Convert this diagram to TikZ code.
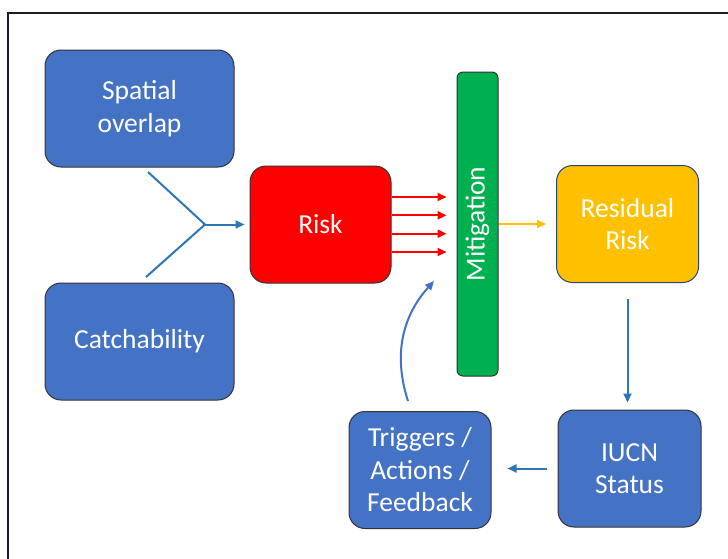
\documentclass[tikz,border=0pt]{standalone}
\usepackage{fontspec}
\setmainfont{Carlito}
\usetikzlibrary{arrows.meta}

\definecolor{boxblue}{HTML}{4472C4}
\definecolor{riskred}{HTML}{FF0000}
\definecolor{mitgreen}{HTML}{00B050}
\definecolor{resyellow}{HTML}{FFC000}
\definecolor{arrowblue}{HTML}{2E75B6}
\definecolor{framegray}{HTML}{1A1A2A}

\begin{document}
\begin{tikzpicture}[x=1pt, y=-1pt,
    box/.style={draw=black!80, line width=1pt, rounded corners=16pt, text=white,
        align=center, font=\fontsize{27.5}{32.5}\selectfont,
        minimum width=#1, minimum height=117pt, inner sep=0pt},
    box/.default=189pt,
    arr/.style={-{Triangle[length=9pt,width=8pt]}, line width=2pt, draw=arrowblue}]
        \clip (0,0) rectangle (728,558);
        \draw[framegray, line width=2pt] (8,13) rectangle (760,600);

        \node [box, fill=boxblue] (Spatial) at (139.5, 108.5) {Spatial\\overlap};
        \node [box, fill=boxblue] (Catch) at (139.5, 341.5) {Catchability};
        \node [box=141pt, fill=riskred] (Risk) at (320.5, 224.5) {Risk};
        \node [box=41pt, minimum height=304pt, rounded corners=6pt, fill=mitgreen] (Mit) at (477.5, 224) {};
        \node [text=white, font=\fontsize{27.5}{32.5}\selectfont, rotate=90] at (Mit) {Mitigation};
        \node [box=142pt, fill=resyellow, draw=boxblue!60!black] (Res) at (627.5, 224) {Residual\\Risk};
        \node [box=143pt, fill=boxblue] (IUCN) at (629.5, 468.5) {IUCN\\Status};
        \node [box=142pt, fill=boxblue] (Trig) at (420, 470) {Triggers /\\Actions /\\Feedback};

        % Joining spatial overlap and catchability
        \coordinate (sp) at (148, 172);
        \coordinate (ca) at (146, 277);
        \coordinate (join) at (205, 224.5);
        \draw[arrowblue, line width=2pt] (sp) -- (join) -- (ca);
        \draw[arr, shorten >=5pt] (join) -- (Risk.west);

        % Risk into mitigation
        \foreach \dy in {-27.5, -9.2, 9.2, 27.5}
            \draw[-{Triangle[length=9pt,width=8pt]}, line width=2pt, riskred, shorten >=10pt]
                ([yshift=\dy pt]Risk.east) -- ([yshift=\dy pt]Risk.east -| Mit.west);

        % Out of mitigation
        \draw[-{Triangle[length=9pt,width=8pt]}, line width=2pt, resyellow, shorten >=10pt]
            (Mit.east) -- (Mit.east -| Res.west);
        \draw[arr, shorten <=16pt, shorten >=7pt] (Res.south) -- (Res.south |- IUCN.north);
        \draw[arr, shorten <=11pt, shorten >=16pt] (IUCN.west) -- (IUCN.west -| Trig.east);

        % Feedback loop
        \coordinate (fb) at (434, 281);
        \draw[-{Triangle[length=9pt,width=8pt]}, line width=2pt, boxblue]
            ([xshift=-12pt, yshift=10pt]Trig.north) to[out=108, in=228] (fb);
\end{tikzpicture}
\end{document}
